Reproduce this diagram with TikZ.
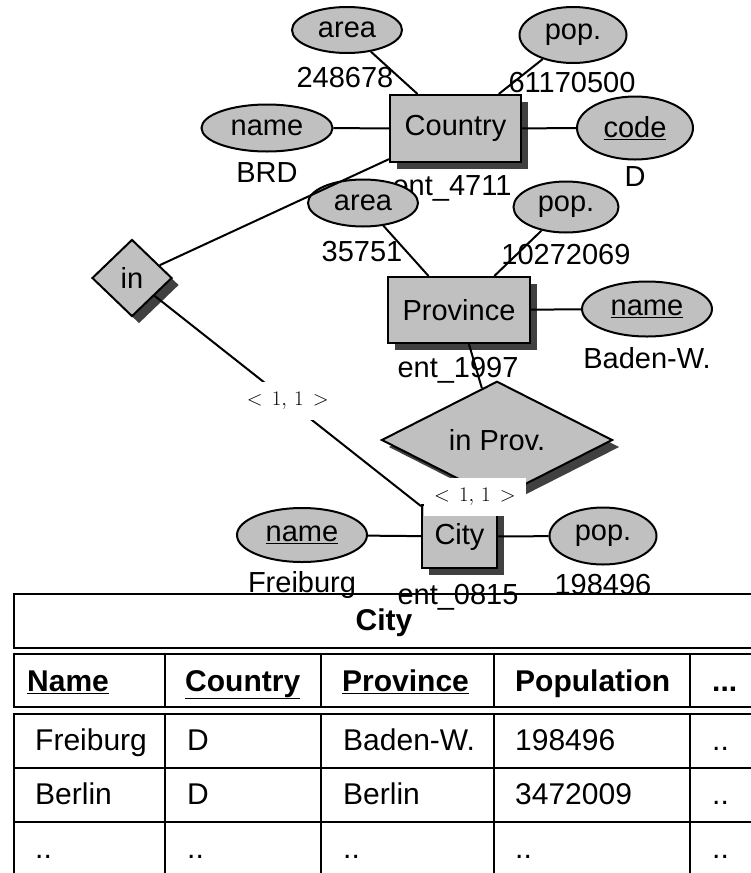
\documentclass[tikz,border=0pt]{standalone}
\usepackage{fontspec}
\setmainfont{Liberation Sans}
\usetikzlibrary{shapes.geometric,positioning}
\definecolor{boxgray}{RGB}{192,192,192}
\definecolor{shadegray}{RGB}{64,64,64}
\newcommand{\erfont}{\fontsize{29}{35}\selectfont}
\newcommand{\tabfont}{\fontsize{30}{36}\selectfont}
\newcommand{\twodots}{..}
\newcommand{\threedots}{...}
\tikzset{
  shadowed/.style={preaction={fill=shadegray,transform canvas={shift={(7pt,-7pt)}}}},
  entity/.style={rectangle,draw,line width=2pt,fill=boxgray,shadowed,inner sep=0pt},
  attrib/.style={ellipse,draw,line width=2pt,fill=boxgray,inner sep=0pt},
  relship/.style={diamond,draw,line width=2pt,fill=boxgray,shadowed,inner sep=0pt},
  value/.style={inner sep=0pt},
  card/.style={fill=white,inner sep=10pt,font=\fontsize{22}{26}\selectfont},
  link/.style={line width=2pt},
  tab/.style={line width=2.2pt},
  cell/.style={anchor=base west,inner sep=0pt,font=\tabfont}
}

\begin{document}
\begin{tikzpicture}[x=1pt,y=-1pt,font=\erfont]
    \path[use as bounding box,clip] (0,0) rectangle (751,873);
    % Country
    \node[entity,minimum width=131pt,minimum height=67pt] (country) at (455.5,128.5) {Country};
    \node[attrib,minimum width=110pt,minimum height=46pt] (carea) at (347,30) {area};
    \node[attrib,minimum width=107pt,minimum height=56pt] (cpop) at (573,35) {pop.};
    \node[attrib,minimum width=131pt,minimum height=47pt] (cname) at (267,128) {name};
    \node[attrib,minimum width=116pt,minimum height=63pt] (ccode) at (635,128) {\underline{code}};
    \node[value] (careav) at (345,78) {248678};
    \node[value] (cpopv) at (572,83) {61170500};
    \node[value] (cnamev) at (267,173) {BRD};
    \node[value] (ccodev) at (635,177) {D};
    \node[value] (countryid) at (452,188) {ent\_4711};
    % Province
    \node[entity,minimum width=142pt,minimum height=66pt] (province) at (459,310) {Province};
    \node[attrib,minimum width=110pt,minimum height=47pt] (parea) at (363,203) {area};
    \node[attrib,minimum width=105pt,minimum height=51pt] (ppop) at (566,207) {pop.};
    \node[attrib,minimum width=130pt,minimum height=55pt] (pname) at (647,309) {\underline{name}};
    \node[value] (pareav) at (362,252) {35751};
    \node[value] (ppopv) at (566,255) {10272069};
    \node[value] (pnamev) at (647,358) {Baden-W.};
    \node[value] (provinceid) at (458,370) {ent\_1997};
    % City
    \node[entity,minimum width=75pt,minimum height=63pt] (city) at (459.5,536.5) {City};
    \node[attrib,minimum width=130pt,minimum height=54pt] (yname) at (302,535) {\underline{name}};
    \node[attrib,minimum width=107pt,minimum height=57pt] (ypop) at (603,536) {pop.};
    \node[value] (ynamev) at (302,585) {Freiburg};
    \node[value] (ypopv) at (603,585) {198496};
    \node[value] (cityid) at (458,597) {ent\_0815};
    % relationships
    \node[relship,minimum width=80pt,minimum height=77pt] (inrel) at (132,278) {in};
    \node[relship,minimum width=231pt,minimum height=76pt] (inprov) at (497,440) {in Prov.};

    \foreach \a in {carea,cpop,cname,ccode}
    \draw[link] (\a) -- (country);
    \foreach \a in {parea,ppop,pname}
    \draw[link] (\a) -- (province);
    \foreach \a in {yname,ypop}
    \draw[link] (\a) -- (city);
    \draw[link] (inrel) -- (country);
    \draw[link] (inrel) -- node[card] {$<\,1,\,1\,>$} (city);
    \draw[link] (province) -- (inprov);
    \draw[link] (inprov) -- node[card] {$<\,1,\,1\,>$} (city);

    % relation City
    \draw[tab] (760,594) -- (14,594) -- (14,648) -- (760,648);
    \draw[tab] (760,654) -- (14,654) -- (14,707) -- (760,707);
    \draw[tab] (14,880) -- (14,714) -- (760,714);
    \foreach \y in {768,822}
    \draw[tab] (14,\y) -- (760,\y);
    \foreach \x in {165,321,494,690} {
       \draw[tab] (\x,654) -- (\x,707);
       \draw[tab] (\x,714) -- (\x,880);
    }
    \node[cell,anchor=base,font=\tabfont\bfseries] (reltitle) at (384,630) {City};
    \foreach \x/\t in {27/\underline{Name},185/\underline{Country},342/\underline{Province},515/Population,712/\threedots}
    \node[cell,font=\tabfont\bfseries] at (\x,691) {\t};
    \foreach \y/\a/\b/\c/\d in {750/Freiburg/D/Baden-W./198496,804/Berlin/D/Berlin/3472009,858/\twodots/\twodots/\twodots/\twodots} {
       \node[cell] at (35,\y) {\a};
       \node[cell] at (187,\y) {\b};
       \node[cell] at (343,\y) {\c};
       \node[cell] at (515,\y) {\d};
       \node[cell] at (712,\y) {\twodots};
    }
\end{tikzpicture}
\end{document}
